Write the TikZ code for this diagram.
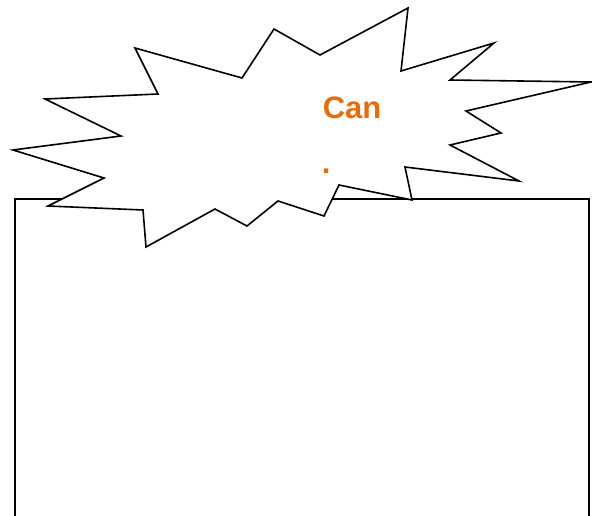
\documentclass[tikz,border=0pt]{standalone}
\usepackage{fontspec}
\setmainfont{Liberation Sans}
\definecolor{canorange}{RGB}{228,110,14}
\begin{document}
\begin{tikzpicture}[x=1pt, y=-1pt, line width=1.6pt, line join=miter,
  txt/.style={anchor=base west, inner sep=0pt, text=canorange, font=\fontsize{31}{37}\selectfont\bfseries}]
\useasboundingbox (0,0) rectangle (592,516);
\clip (0,0) rectangle (592,516);
%Khung chữ nhật
\draw (15,530) -- (15,199) -- (589,199) -- (589,530);
%Hình nổ
\draw[fill=white] (135,48) -- (242,78) -- (274,29) -- (320,55) -- (408,8) -- (401,71)
  -- (494,43) -- (450,80) -- (591,82) -- (466,111) -- (501,133) -- (450,145)
  -- (519,181) -- (405,167) -- (412,200) -- (339,185) -- (324,216) -- (278,201)
  -- (247,226) -- (215,209) -- (146,247) -- (143,210) -- (48,206) -- (104,178)
  -- (13,150) -- (121,136) -- (45,99) -- (158,94) -- cycle;
\node[txt] (can) at (322,119) {Can};
\node[txt] (dot) at (321,174) {.};
\end{tikzpicture}
\end{document}
